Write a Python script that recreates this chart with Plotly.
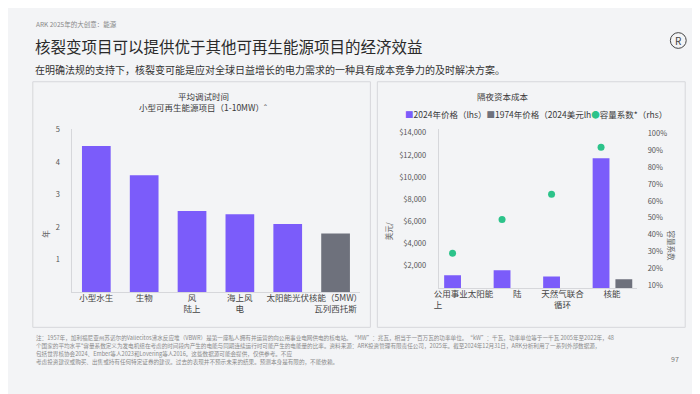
import plotly.graph_objects as go

# ---------------- data ----------------
left_categories = ["小型水生", "生物", "风<br>陆上", "海上风<br>电", "太阳能光伏", "核能（5MW）<br>瓦列西托斯"]
left_years = [4.5, 3.6, 2.5, 2.4, 2.1, 1.8]
left_ticks = [1, 2, 3, 4, 5]

right_categories = ["公用事业太阳能<br>上　　　　　　", "　陆", "天然气联合<br>循环", "核能"]
price_2024 = [1150, 1600, 1050, 11700]
price_1974 = [None, None, None, 800]
capacity_factor = [0.29, 0.49, 0.64, 0.92]
left_axis_ticks = [2000, 4000, 6000, 8000, 10000, 12000, 14000]
right_axis_ticks = [0.1, 0.2, 0.3, 0.4, 0.5, 0.6, 0.7, 0.8, 0.9, 1.0]

footnotes = [
    "注：1957年，加利福尼亚州苏诺尔的Vallecitos沸水反应堆（VBWR）是第一座私人拥有并运营的向公用事业电网供电的核电站。“MW”：兆瓦，相当于一百万瓦的功率单位。“kW”：千瓦，功率单位等于一千瓦 2005年至2022年，48",
    "个国家的平均水平*容量系数定义为发电机组在考虑的时间段内产生的电能与同期连续运行时可能产生的电能量的比率。资料来源：ARK投资管理有限责任公司，2025年。截至2024年12月31日，ARK分析利用了一系列外部数据源，",
    "包括世界核协会2024、Ember等人2023和Lovering等人2016。这些数据源可能会提供，仅供参考。不应",
    "考虑投资建议或购买、出售或持有任何特定证券的建议。过去的表现并不预示未来的结果。预测本身是有限的，不能依赖。",
]

# ---------------- style ----------------
W, H = 700, 394
FONT = "Noto Sans CJK SC"
PURPLE = "#7b5cfa"
GRAY = "#6e717c"
GREEN = "#2cc38a"
BG = "#f3f4f6"
LINE = "#d6d7db"
TXT = "#3a3a3a"


def px(x):
    return x / W


def py(y):
    return 1 - y / H


fig = go.Figure()

# left chart bars
left_colors = [GRAY if c.startswith("核能") else PURPLE for c in left_categories]
fig.add_trace(go.Bar(
    x=left_categories, y=left_years, marker=dict(color=left_colors, line=dict(width=0)),
    name="平均调试时间", xaxis="x", yaxis="y", showlegend=False,
))

# right chart
idx = list(range(len(right_categories)))
fig.add_trace(go.Bar(
    x=idx, y=price_2024, width=0.34, offset=-0.39, marker=dict(color=PURPLE, line=dict(width=0)),
    name="2024年价格（lhs）", xaxis="x2", yaxis="y2", showlegend=False,
))
fig.add_trace(go.Bar(
    x=idx, y=price_1974, width=0.34, offset=0.07, marker=dict(color=GRAY, line=dict(width=0)),
    name="1974年价格（2024美元lhs）", xaxis="x2", yaxis="y2", showlegend=False,
))
fig.add_trace(go.Scatter(
    x=[i - 0.22 for i in idx], y=capacity_factor, mode="markers",
    marker=dict(color=GREEN, size=7), name="容量系数*（rhs）",
    xaxis="x2", yaxis="y3", showlegend=False,
))

axis_font = dict(family=FONT, size=7.5, color="#555")

fig.update_layout(
    width=W, height=H, margin=dict(l=0, r=0, t=0, b=0),
    paper_bgcolor=BG, plot_bgcolor=BG,
    font=dict(family=FONT, color=TXT),
    bargap=0.4,
    xaxis=dict(
        domain=[px(60), px(350)], anchor="y", type="category", tickangle=0,
        showline=True, linecolor=LINE, showgrid=False, zeroline=False, ticks="",
        ticklabelstandoff=-2,
        tickfont=dict(family=FONT, size=8.5, color="#444"), fixedrange=True,
    ),
    yaxis=dict(
        domain=[py(284), py(118)], anchor="x", range=[0, 5.03],
        tickvals=left_ticks, showline=True, linecolor=LINE, showgrid=False, zeroline=False,
        ticks="", ticklabelstandoff=10, tickfont=axis_font,
    ),
    xaxis2=dict(
        domain=[px(430), px(630)], anchor="y2", range=[-0.5, 3.5], tickangle=0,
        tickvals=idx, ticktext=right_categories, ticklabelstandoff=-2,
        showline=True, linecolor=LINE, showgrid=False, zeroline=False, ticks="",
        tickfont=dict(family=FONT, size=8.5, color="#444"),
    ),
    yaxis2=dict(
        domain=[py(280), py(118)], anchor="x2", range=[0, 14354],
        tickvals=left_axis_ticks, ticktext=[f"${v:,}" for v in left_axis_ticks],
        showline=True, linecolor=LINE, showgrid=False, zeroline=False,
        ticks="", ticklabelstandoff=10, tickfont=axis_font,
    ),
    yaxis3=dict(
        overlaying="y2", side="right", anchor="x2", range=[0.0825, 1.029],
        tickvals=right_axis_ticks, tickformat=".0%",
        showline=False, showgrid=False, zeroline=False,
        ticks="", ticklabelstandoff=10, tickfont=axis_font,
    ),
)

# panels
fig.add_shape(type="rect", xref="paper", yref="paper", x0=px(20), x1=px(361), y0=py(320), y1=py(70),
              line=dict(color=LINE, width=1), fillcolor="rgba(0,0,0,0)", layer="below")
fig.add_shape(type="rect", xref="paper", yref="paper", x0=px(368), x1=px(679), y0=py(320), y1=py(70),
              line=dict(color=LINE, width=1), fillcolor="rgba(0,0,0,0)", layer="below")

# logo
fig.add_shape(type="circle", xref="paper", yref="paper", x0=px(664), x1=px(680), y0=py(36), y1=py(20),
              line=dict(color="#444", width=1))


def ann(text, x, y, size, color=TXT, xanchor="left", angle=0, **kw):
    fig.add_annotation(text=text, x=px(x), y=py(y), xref="paper", yref="paper",
                       xanchor=xanchor, yanchor="middle", showarrow=False, textangle=angle,
                       font=dict(family=FONT, size=size, color=color), **kw)


ann("R", 672, 28, 10, color="#444", xanchor="center")
ann("ARK 2025年的大创意：能源", 21, 11, 6.5, color="#888")
ann("核裂变项目可以提供优于其他可再生能源项目的经济效益", 20, 34, 15.5, color="#2a2a2a")
ann("在明确法规的支持下，核裂变可能是应对全球日益增长的电力需求的一种具有成本竞争力的及时解决方案。", 20, 58, 10, color="#333")

ann("平均调试时间", 192, 84, 8.5, xanchor="center")
ann("小型可再生能源项目（1-10MW）ˆ", 192, 96, 8.5, xanchor="center")
ann("年", 32, 225, 7.5, color="#666", xanchor="center", angle=-90)

ann("隔夜资本成本", 495, 84, 8.5, xanchor="center")
legend_text = (f"<span style='color:{PURPLE}'>■</span>2024年价格（lhs）"
               f"<span style='color:{GRAY}'>■</span>1974年价格（2024美元lh"
               f"<span style='color:{GREEN}'>●</span>容量系数*（rhs）")
ann(legend_text, 394, 103, 8.5)
ann("美元/", 379, 222, 7.5, color="#666", xanchor="center", angle=-90)
ann("容量系数", 665, 237, 7.5, color="#666", xanchor="center", angle=90)

for i, line in enumerate(footnotes):
    ann(line, 21, 331 + 8 * i, 5.6, color="#8a8a8a")
ann("97", 669, 352, 7, color="#777", xanchor="center")

fig.write_html("out.html")
